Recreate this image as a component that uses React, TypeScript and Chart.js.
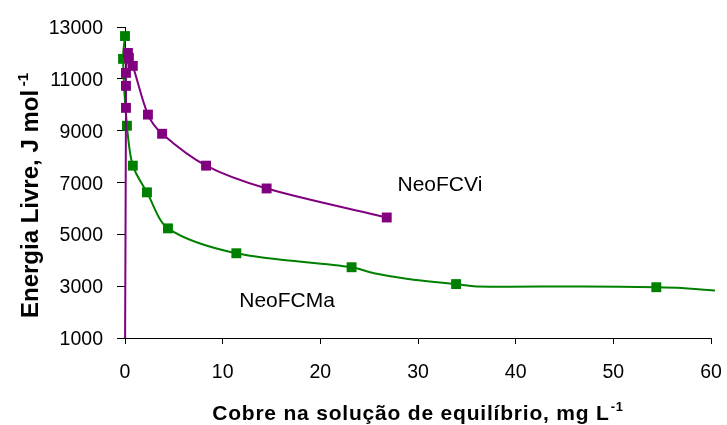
import React, { useEffect, useRef } from "react";
import { Chart, registerables } from "chart.js";

Chart.register(...registerables);

// NeoFCMa (green) – equilibrium Cu (mg/L) vs free energy (J/mol)
const maX = [0.0, -0.2, 0.2, 0.8, 2.25, 4.4, 11.4, 23.2, 25.5, 29, 33.9, 36, 47, 54.4, 57, 62];
const maY = [12650, 11770, 9190, 7650, 6620, 5230, 4270, 3730, 3500, 3280, 3080, 2990, 2990, 2960, 2930, 2780];
const maMarker = [1, 1, 1, 1, 1, 1, 1, 1, 0, 0, 1, 0, 0, 1, 0, 0];

// NeoFCVi (purple)
const viX = [0.0, 0.1, 0.1, 0.1, 0.3, 0.4, 0.8, 2.35, 3.8, 8.3, 14.5, 26.8];
const viY = [0, 9880, 10730, 11230, 12000, 11810, 11500, 9620, 8880, 7650, 6770, 5650];
const viMarker = [0, 1, 1, 1, 1, 1, 1, 1, 1, 1, 1, 1];

const xMin = 0, xMax = 60, xStep = 10;
const yMin = 1000, yMax = 13000, yStep = 2000;

const seriesLabels = [
  { text: "NeoFCVi", x: 27.9, y: 6670 },
  { text: "NeoFCMa", x: 11.7, y: 2200 },
];

const yTitle = "Energia Livre, J mol";
const xTitle = "Cobre na solução de equilíbrio, mg L";
const unitSup = "-1";

const GREEN = "#008000";
const PURPLE = "#800080";
const FAM = '"Liberation Sans", Arial, sans-serif';

function drawText(ctx: CanvasRenderingContext2D, text: string, x: number, y: number, font: string, align: CanvasTextAlign) {
  ctx.save();
  ctx.font = font;
  ctx.textAlign = align;
  ctx.textBaseline = "alphabetic";
  ctx.fillText(text, x, y);
  ctx.restore();
}

const textPlugin = {
  id: "textPlugin",
  afterDraw(chart: any) {
    const ctx: CanvasRenderingContext2D = chart.ctx;
    const xs = chart.scales.x;
    const ys = chart.scales.y;
    const area = chart.chartArea;
    ctx.save();
    ctx.fillStyle = "#000";
    const tickFont = `19.5px ${FAM}`;
    // y tick labels
    ys.ticks.forEach((t: any) => {
      const py = ys.getPixelForValue(t.value);
      drawText(ctx, String(t.value), 103, py + 7, tickFont, "right");
    });
    // x tick labels
    xs.ticks.forEach((t: any) => {
      const px = xs.getPixelForValue(t.value);
      drawText(ctx, String(t.value), px, 378, tickFont, "center");
    });
    // series labels
    seriesLabels.forEach((l) => {
      drawText(ctx, l.text, xs.getPixelForValue(l.x), ys.getPixelForValue(l.y), `21px ${FAM}`, "left");
    });
    // x title with superscript, centred on the plot area
    {
      const mainFont = `bold 21px ${FAM}`;
      const supFont = `bold 13px ${FAM}`;
      ctx.save();
      (ctx as any).letterSpacing = "0.8px";
      ctx.font = mainFont;
      const wMain = ctx.measureText(xTitle).width;
      ctx.font = supFont;
      const wSup = ctx.measureText(unitSup).width;
      const total = wMain + 1 + wSup;
      const left = (area.left + area.right) / 2 - total / 2;
      ctx.textAlign = "left";
      ctx.textBaseline = "alphabetic";
      ctx.font = mainFont;
      ctx.fillText(xTitle, left, 420);
      ctx.font = supFont;
      ctx.fillText(unitSup, left + wMain + 1, 411);
      ctx.restore();
    }
    // y title rotated with superscript
    {
      const mainFont = `bold 24px ${FAM}`;
      const supFont = `bold 15px ${FAM}`;
      ctx.save();
      ctx.translate(38, 318);
      ctx.rotate(-Math.PI / 2);
      ctx.font = mainFont;
      ctx.textAlign = "left";
      ctx.textBaseline = "alphabetic";
      ctx.fillText(yTitle, 0, 0);
      const w = ctx.measureText(yTitle + " ").width;
      ctx.font = supFont;
      ctx.fillText(unitSup, w - 3, -10);
      ctx.restore();
    }
    ctx.restore();
  },
};

function makeData(xs: number[], ys: number[]) {
  return xs.map((x, i) => ({ x, y: ys[i] }));
}

export default function App() {
  const ref = useRef<HTMLCanvasElement | null>(null);
  useEffect(() => {
    if (!ref.current) return;
    const chart = new Chart(ref.current, {
      type: "scatter",
      data: {
        datasets: [
          {
            label: "NeoFCVi",
            data: makeData(viX, viY),
            showLine: true,
            borderColor: PURPLE,
            backgroundColor: PURPLE,
            borderWidth: 2,
            tension: 0.3,
            pointStyle: "rect",
            pointRadius: viMarker.map((m) => (m ? 7 : 0)),
            pointBorderWidth: 0,
            pointHoverRadius: viMarker.map((m) => (m ? 7 : 0)),
            clip: { left: 10, top: 10, right: 4, bottom: 0 } as any,
          },
          {
            label: "NeoFCMa",
            data: makeData(maX, maY),
            showLine: true,
            borderColor: GREEN,
            backgroundColor: GREEN,
            borderWidth: 2,
            tension: 0.3,
            pointStyle: "rect",
            pointRadius: maMarker.map((m) => (m ? 7 : 0)),
            pointBorderWidth: 0,
            pointHoverRadius: maMarker.map((m) => (m ? 7 : 0)),
            clip: { left: 10, top: 10, right: 4, bottom: 0 } as any,
          },
        ],
      },
      options: {
        animation: false,
        responsive: false,
        maintainAspectRatio: false,
        events: [],
        layout: { padding: { left: 0, top: 27, right: 16, bottom: 0 } },
        plugins: { legend: { display: false }, tooltip: { enabled: false } },
        scales: {
          x: {
            type: "linear",
            min: xMin,
            max: xMax,
            ticks: { display: false, stepSize: xStep },
            grid: { display: true, drawOnChartArea: false, drawTicks: true, tickLength: 6, color: "#000", lineWidth: 1 },
            border: { display: true, color: "#000", width: 1 },
            afterFit: (s: any) => { s.height = 87; },
          },
          y: {
            type: "linear",
            min: yMin,
            max: yMax,
            ticks: { display: false, stepSize: yStep },
            grid: { display: true, drawOnChartArea: false, drawTicks: true, tickLength: 8, color: "#000", lineWidth: 1 },
            border: { display: true, color: "#000", width: 1 },
            afterFit: (s: any) => { s.width = 125; },
          },
        },
      } as any,
      plugins: [textPlugin],
    });
    return () => chart.destroy();
  }, []);
  return (
    <div style={{ position: "fixed", left: 0, top: 0, width: 727, height: 425, background: "#fff" }}>
      <canvas ref={ref} width={727} height={425} style={{ width: 727, height: 425, display: "block" }} />
    </div>
  );
}
